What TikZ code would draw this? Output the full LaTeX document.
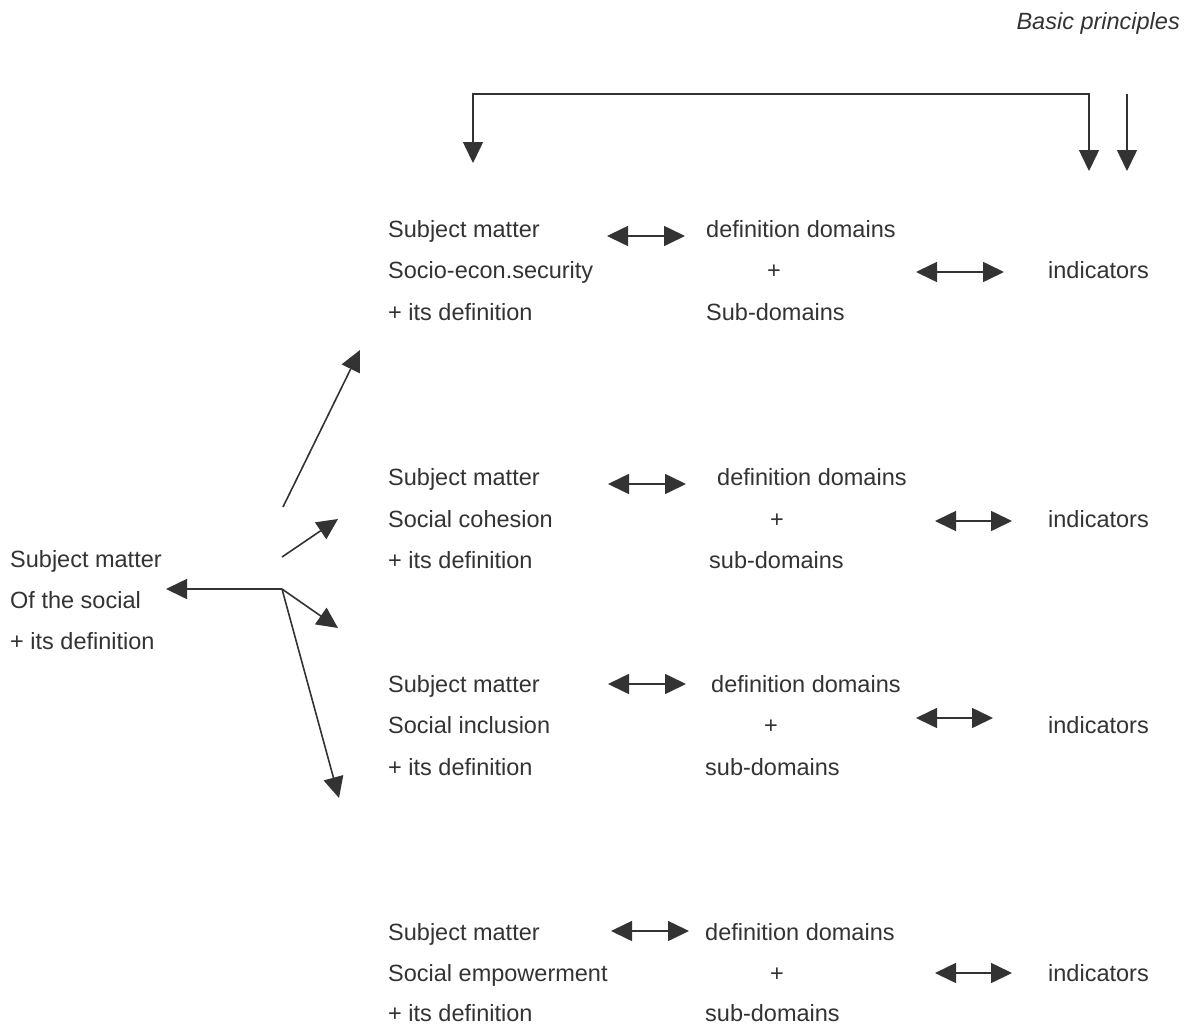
\documentclass[tikz,border=0pt]{standalone}
\usepackage{fontspec}
\setmainfont{Liberation Sans}
\usetikzlibrary{arrows.meta}
\definecolor{ink}{HTML}{333333}
\begin{document}
\begin{tikzpicture}[x=1pt,y=-1pt,
  lbl/.style={anchor=base west,inner sep=0pt,text=ink,font=\fontsize{23.5}{28}\selectfont},
  plus/.style={anchor=base,inner sep=0pt,text=ink,font=\fontsize{23.5}{28}\selectfont},
  title/.style={anchor=base east,inner sep=0pt,text=ink,font=\fontsize{23.5}{28}\selectfont\itshape},
  conn/.style={draw=ink,line width=1.6pt,-{Triangle[length=21pt,width=20pt]}},
  dbl/.style={draw=ink,line width=1.6pt,{Triangle[length=21pt,width=20pt]}-{Triangle[length=21pt,width=20pt]}}]
\useasboundingbox[fill=white] (0,0) rectangle (1189,1025);

\node[title] (bp) at (1180,30) {Basic principles};

% left block
\node[lbl] (l1) at (10,567) {Subject matter};
\node[lbl] (l2) at (10,608) {Of the social};
\node[lbl] (l3) at (10,649) {+ its definition};

% block 1
\node[lbl] (a1) at (388,237) {Subject matter};
\node[lbl] (a2) at (388,278) {Socio-econ.security};
\node[lbl] (a3) at (388,320) {+ its definition};
\node[lbl] (ad) at (706,237) {definition domains};
\node[plus] (ap) at (774,278) {+};
\node[lbl] (as) at (706,320) {Sub-domains};
\node[lbl] (ai) at (1048,278) {indicators};

% block 2
\node[lbl] (b1) at (388,485) {Subject matter};
\node[lbl] (b2) at (388,527) {Social cohesion};
\node[lbl] (b3) at (388,568) {+ its definition};
\node[lbl] (bd) at (717,485) {definition domains};
\node[plus] (bp2) at (777,527) {+};
\node[lbl] (bs) at (709,568) {sub-domains};
\node[lbl] (bi) at (1048,527) {indicators};

% block 3
\node[lbl] (c1) at (388,692) {Subject matter};
\node[lbl] (c2) at (388,733) {Social inclusion};
\node[lbl] (c3) at (388,775) {+ its definition};
\node[lbl] (cd) at (711,692) {definition domains};
\node[plus] (cp) at (771,733) {+};
\node[lbl] (cs) at (705,775) {sub-domains};
\node[lbl] (ci) at (1048,733) {indicators};

% block 4
\node[lbl] (d1) at (388,940) {Subject matter};
\node[lbl] (d2) at (388,981) {Social empowerment};
\node[lbl] (d3) at (388,1021) {+ its definition};
\node[lbl] (dd) at (705,940) {definition domains};
\node[plus] (dp) at (777,981) {+};
\node[lbl] (ds) at (705,1021) {sub-domains};
\node[lbl] (di) at (1048,981) {indicators};

% coordinates for connectors
\coordinate (tl) at (473,163);
\coordinate (tc) at (1089,94);
\coordinate (tr) at (1089,171);
\coordinate (fr0) at (1127,94);
\coordinate (fr1) at (1127,171);

\coordinate (jn) at (282,589);
\coordinate (jl) at (166,589);
\coordinate (u0) at (283,507);
\coordinate (u1) at (360,350);
\coordinate (s0) at (282,557);
\coordinate (s1) at (338,519);
\coordinate (m1) at (338,628);
\coordinate (v1) at (339,798);

\coordinate (a1l) at (607,236);  \coordinate (a1r) at (685,236);
\coordinate (a2l) at (916,272);  \coordinate (a2r) at (1004,272);
\coordinate (b1l) at (608,484);  \coordinate (b1r) at (686,484);
\coordinate (b2l) at (935,521);  \coordinate (b2r) at (1012,521);
\coordinate (c1l) at (608,684);  \coordinate (c1r) at (686,684);
\coordinate (c2l) at (916,718);  \coordinate (c2r) at (993,718);
\coordinate (d1l) at (611,931);  \coordinate (d1r) at (689,931);
\coordinate (d2l) at (935,973);  \coordinate (d2r) at (1012,973);

% top bracket
\draw[dbl] (tl) |- (tc) -- (tr);
\draw[conn] (fr0) -- (fr1);

% left fan
\draw[conn] (jn) -- (jl);
\draw[conn] (u0) -- (u1);
\draw[conn] (s0) -- (s1);
\draw[conn] (jn) -- (m1);
\draw[conn] (jn) -- (v1);

% double arrows
\draw[dbl] (a1l) -- (a1r);
\draw[dbl] (a2l) -- (a2r);
\draw[dbl] (b1l) -- (b1r);
\draw[dbl] (b2l) -- (b2r);
\draw[dbl] (c1l) -- (c1r);
\draw[dbl] (c2l) -- (c2r);
\draw[dbl] (d1l) -- (d1r);
\draw[dbl] (d2l) -- (d2r);
\end{tikzpicture}
\end{document}
